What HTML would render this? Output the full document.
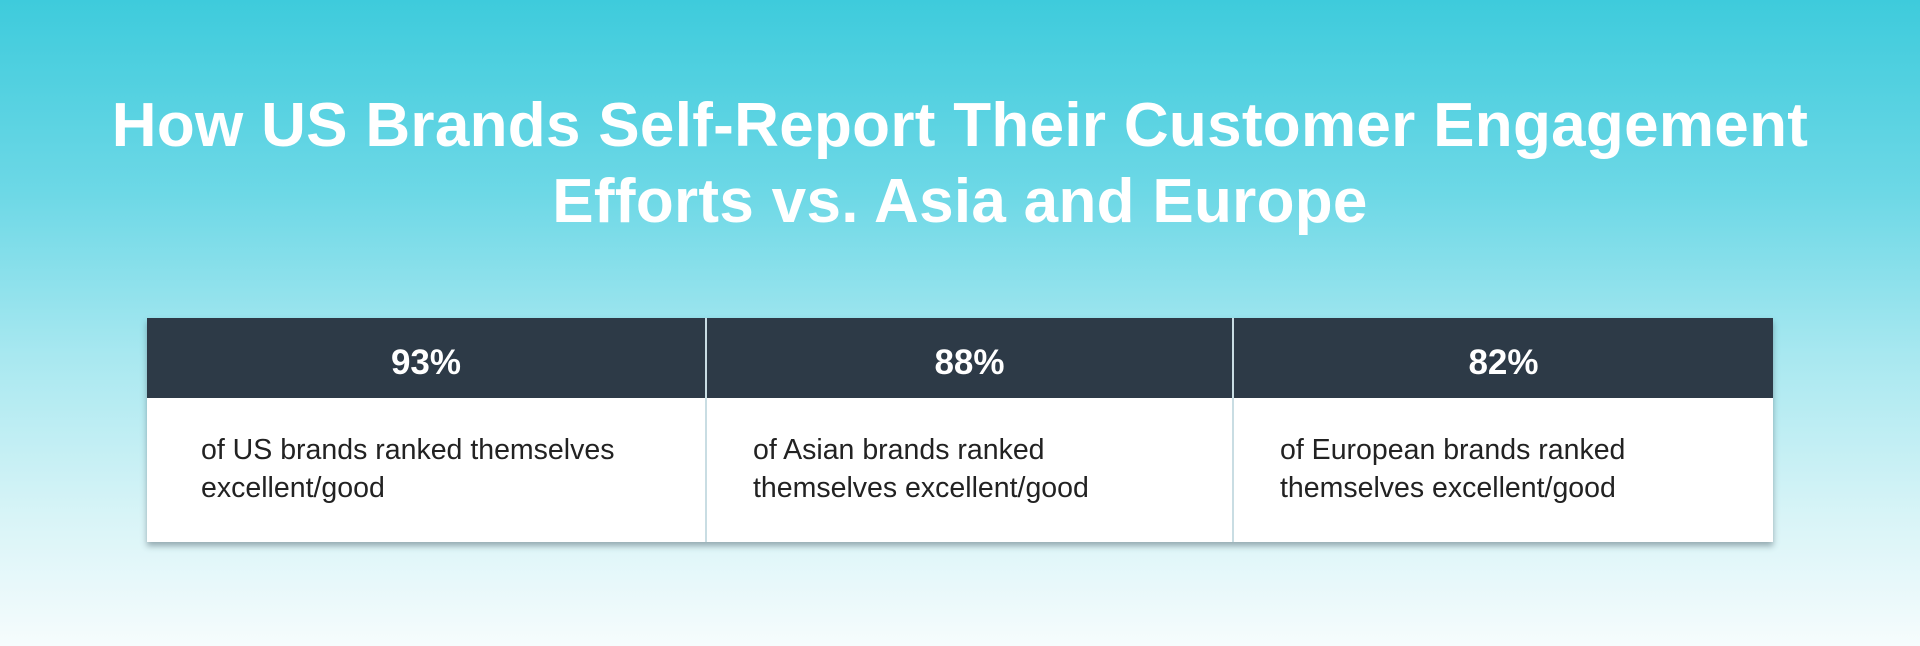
<!DOCTYPE html>
<html><head><meta charset="utf-8"><style>
html,body{margin:0;padding:0}
body{width:1920px;height:646px;overflow:hidden;position:relative;font-family:"Liberation Sans",sans-serif;
background:linear-gradient(180deg,#3ecbdc 0%,#6dd8e6 30%,#a8e8f0 55%,#d8f4f7 80%,#f6fcfd 100%);}
h1{position:absolute;top:88px;left:0;width:1920px;margin:0;text-align:center;color:#fff;font-weight:bold;font-size:62px;line-height:76px;letter-spacing:0.3px}
.tbl{position:absolute;left:147px;top:318px;width:1626px;height:224px;background:#fff;box-shadow:0 4px 6px rgba(60,80,90,0.45);display:flex}
.col{position:relative;height:100%;border-right:2px solid #c9dde3}
.col:last-child{border-right:none}
.hd{height:80px;background:#2d3a47;color:#fff;font-weight:bold;font-size:35px;line-height:90px;text-align:center;box-sizing:border-box}
.bd{padding:33px 0 0 54px;font-size:28.5px;line-height:38px;color:#222}
</style></head><body>
<h1>How US Brands Self-Report Their Customer Engagement<br>Efforts vs. Asia and Europe</h1>
<div class="tbl">
<div class="col" style="width:558px"><div class="hd">93%</div><div class="bd">of US brands ranked themselves<br>excellent/good</div></div>
<div class="col" style="width:525px"><div class="hd">88%</div><div class="bd" style="padding-left:46px">of Asian brands ranked<br>themselves excellent/good</div></div>
<div class="col" style="width:539px"><div class="hd">82%</div><div class="bd" style="padding-left:46px">of European brands ranked<br>themselves excellent/good</div></div>
</div>
</body></html>
